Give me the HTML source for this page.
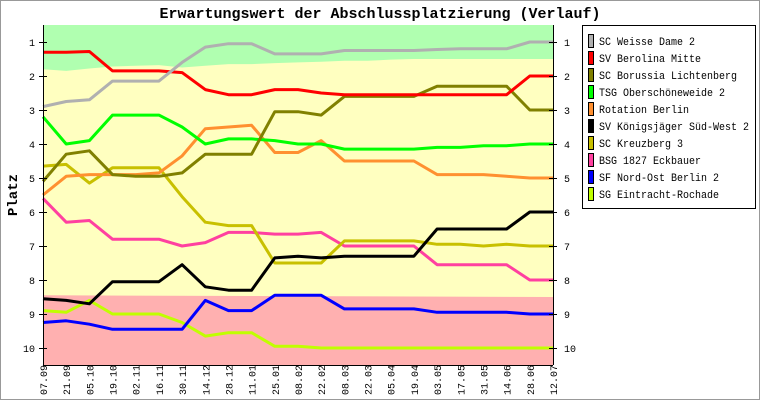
<!DOCTYPE html>
<html><head><meta charset="utf-8"><style>
body{margin:0;background:#fff}
svg text{font-family:"Liberation Mono","DejaVu Sans Mono",monospace}
</style></head><body>
<svg id="s" width="760" height="400" xmlns="http://www.w3.org/2000/svg">
<rect x="0.5" y="0.5" width="759" height="399" fill="#fff" stroke="#999"/>
<text x="380" y="18" font-size="15" text-anchor="middle" font-weight="bold">Erwartungswert der Abschlussplatzierung (Verlauf)</text>
<g id="g"></g>
<rect x="582.5" y="25.5" width="173" height="183" fill="#fff" stroke="#000"/>
<g id="lg" font-size="11"></g>
<text transform="translate(17,195) rotate(-90)" font-size="14" font-weight="bold" text-anchor="middle">Platz</text>
</svg>
<script>
const g=document.getElementById('g'),lg=document.getElementById('lg');
const X0=43,X1=553,Y=p=>42+(p-1)*34,N=23;
const xs=[];for(let i=0;i<N;i++)xs.push(X0+(X1-X0)*i/(N-1));
let h='';
const gb=[1.8,1.85,1.78,1.72,1.7,1.68,1.75,1.7,1.65,1.65,1.62,1.6,1.58,1.55,1.55,1.52,1.5,1.5,1.5,1.5,1.5,1.5,1.5];
h+=`<rect x="${X0}" y="25" width="${X1-X0}" height="340" fill="#ffffc0"/>`;
h+=`<polygon fill="#b0ffb0" points="${X0},25 ${X1},25 `+xs.map((x,i)=>x+','+Y(gb[i])).reverse().join(' ')+`"/>`;
h+=`<polygon fill="#ffb0b0" points="${X0},365 ${X1},365 ${X1},${Y(8.5)} ${X0},${Y(8.45)}"/>`;
const S=[
["SC Weisse Dame 2","#b0b0b0",[2.9,2.75,2.7,2.15,2.15,2.15,1.6,1.15,1.05,1.05,1.35,1.35,1.35,1.25,1.25,1.25,1.25,1.22,1.2,1.2,1.2,1.0,1.0]],
["SV Berolina Mitte","#ff0000",[1.3,1.3,1.28,1.85,1.85,1.85,1.9,2.4,2.55,2.55,2.4,2.4,2.5,2.55,2.55,2.55,2.55,2.55,2.55,2.55,2.55,2.0,2.0]],
["SC Borussia Lichtenberg","#808000",[5.1,4.3,4.2,4.9,4.95,4.95,4.85,4.3,4.3,4.3,3.05,3.05,3.15,2.6,2.6,2.6,2.6,2.3,2.3,2.3,2.3,3.0,3.0]],
["TSG Oberschöneweide 2","#00ff00",[3.2,4.0,3.9,3.15,3.15,3.15,3.5,4.0,3.85,3.85,3.9,4.0,4.0,4.15,4.15,4.15,4.15,4.1,4.1,4.05,4.05,4.0,4.0]],
["Rotation Berlin","#ff9030",[5.5,4.95,4.9,4.9,4.9,4.85,4.35,3.55,3.5,3.45,4.25,4.25,3.9,4.5,4.5,4.5,4.5,4.9,4.9,4.9,4.95,5.0,5.0]],
["SV Königsjäger Süd-West 2","#000000",[8.55,8.6,8.7,8.05,8.05,8.05,7.55,8.2,8.3,8.3,7.35,7.3,7.35,7.3,7.3,7.3,7.3,6.5,6.5,6.5,6.5,6.0,6.0]],
["SC Kreuzberg 3","#c8c000",[4.65,4.6,5.15,4.7,4.7,4.7,5.55,6.3,6.4,6.4,7.5,7.5,7.5,6.85,6.85,6.85,6.85,6.95,6.95,7.0,6.95,7.0,7.0]],
["BSG 1827 Eckbauer","#ff40a0",[5.6,6.3,6.25,6.8,6.8,6.8,7.0,6.9,6.6,6.6,6.65,6.65,6.6,7.0,7.0,7.0,7.0,7.55,7.55,7.55,7.55,8.0,8.0]],
["SF Nord-Ost Berlin 2","#0000ff",[9.25,9.2,9.3,9.45,9.45,9.45,9.45,8.6,8.9,8.9,8.45,8.45,8.45,8.85,8.85,8.85,8.85,8.95,8.95,8.95,8.95,9.0,9.0]],
["SG Eintracht-Rochade","#c0ff00",[8.9,8.95,8.6,9.0,9.0,9.0,9.25,9.65,9.55,9.55,9.95,9.95,10,10,10,10,10,10,10,10,10,10,10]]];
S.slice().reverse().forEach(s=>{h+=`<polyline fill="none" stroke="${s[1]}" stroke-width="3" stroke-linejoin="round" points="${xs.map((x,i)=>x.toFixed(1)+','+Y(s[2][i]).toFixed(1)).join(' ')}"/>`;});
h+=`<line x1="${X0}.5" y1="25" x2="${X0}.5" y2="365" stroke="#000"/><line x1="${X1}.5" y1="25" x2="${X1}.5" y2="365" stroke="#000"/><line x1="${X0}" y1="365.5" x2="${X1}" y2="365.5" stroke="#000"/>`;
for(let p=1;p<=10;p++){const y=Y(p);h+=`<line x1="${X0-4}" y1="${y}.5" x2="${X0+4}" y2="${y}.5" stroke="#000"/><line x1="${X1-4}" y1="${y}.5" x2="${X1+4}" y2="${y}.5" stroke="#000"/><text x="${X0-8}" y="${y+4}" font-size="10" text-anchor="end">${p}</text><text x="${X1+11}" y="${y+4}" font-size="10">${p}</text>`;}
const dd=["07.09","21.09","05.10","19.10","02.11","16.11","30.11","14.12","28.12","11.01","25.01","08.02","22.02","08.03","22.03","05.04","19.04","03.05","17.05","31.05","14.06","28.06","12.07"];
dd.forEach((t,i)=>{const x=xs[i];h+=`<text transform="translate(${(x+4).toFixed(1)},395) rotate(-90)" font-size="10">${t}</text>`;});
g.innerHTML=h;
let l='';S.forEach((s,i)=>{const y=41+i*17;l+=`<rect x="588.5" y="${y-6.5}" width="5" height="13" fill="${s[1]}" stroke="#000"/><text x="599" y="${y+4}" textLength="${s[0].length*6}" lengthAdjust="spacingAndGlyphs">${s[0]}</text>`;});
lg.innerHTML=l;
</script>
</body></html>
